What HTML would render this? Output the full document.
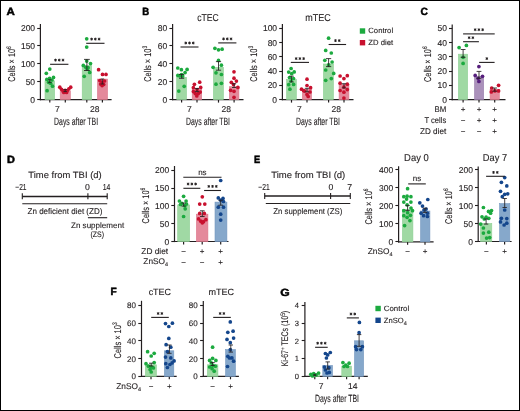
<!DOCTYPE html>
<html><head><meta charset="utf-8"><style>
html,body{margin:0;padding:0;background:#fff;}
svg{display:block;will-change:transform;font-family:"Liberation Sans",sans-serif;}
text{stroke:#231f20;stroke-width:0.12;text-rendering:geometricPrecision;}
</style></head><body>
<svg width="520" height="411" viewBox="0 0 520 411">
<rect x="0" y="0" width="520" height="411" fill="#fff"/>
<text x="6.60" y="14.60" font-size="10.5" text-anchor="start" font-weight="bold" fill="#000" textLength="8.3" lengthAdjust="spacingAndGlyphs" style="stroke:#000;stroke-width:0.5">A</text>
<line x1="40.40" y1="24.00" x2="40.40" y2="100.20" stroke="#231f20" stroke-width="1.2"/>
<line x1="39.80" y1="99.60" x2="111.60" y2="99.60" stroke="#231f20" stroke-width="1.2"/>
<line x1="37.20" y1="28.50" x2="40.40" y2="28.50" stroke="#231f20" stroke-width="1.1"/>
<text x="35.10" y="31.20" font-size="8.5" text-anchor="end" font-weight="normal" fill="#231f20" >200</text>
<line x1="37.20" y1="45.50" x2="40.40" y2="45.50" stroke="#231f20" stroke-width="1.1"/>
<text x="35.10" y="49.08" font-size="8.5" text-anchor="end" font-weight="normal" fill="#231f20" >150</text>
<line x1="37.20" y1="63.50" x2="40.40" y2="63.50" stroke="#231f20" stroke-width="1.1"/>
<text x="35.10" y="66.95" font-size="8.5" text-anchor="end" font-weight="normal" fill="#231f20" >100</text>
<line x1="37.20" y1="81.50" x2="40.40" y2="81.50" stroke="#231f20" stroke-width="1.1"/>
<text x="35.10" y="84.83" font-size="8.5" text-anchor="end" font-weight="normal" fill="#231f20" >50</text>
<line x1="37.20" y1="99.50" x2="40.40" y2="99.50" stroke="#231f20" stroke-width="1.1"/>
<text x="35.10" y="102.70" font-size="8.5" text-anchor="end" font-weight="normal" fill="#231f20" >0</text>
<line x1="49.80" y1="99.60" x2="49.80" y2="102.60" stroke="#231f20" stroke-width="1.2"/>
<line x1="65.30" y1="99.60" x2="65.30" y2="102.60" stroke="#231f20" stroke-width="1.2"/>
<line x1="86.80" y1="99.60" x2="86.80" y2="102.60" stroke="#231f20" stroke-width="1.2"/>
<line x1="102.40" y1="99.60" x2="102.40" y2="102.60" stroke="#231f20" stroke-width="1.2"/>
<rect x="45.00" y="80.80" width="9.60" height="18.80" fill="#a0d9a4" stroke="#8dd093" stroke-width="0.6"/>
<rect x="60.20" y="90.90" width="10.10" height="8.70" fill="#e4899b" stroke="#dc7489" stroke-width="0.6"/>
<rect x="82.20" y="65.70" width="9.50" height="33.90" fill="#a0d9a4" stroke="#8dd093" stroke-width="0.6"/>
<rect x="97.50" y="79.10" width="10.00" height="20.50" fill="#e4899b" stroke="#dc7489" stroke-width="0.6"/>
<circle cx="49.80" cy="69.10" r="1.85" fill="#1caa3f"/>
<circle cx="46.30" cy="73.30" r="1.85" fill="#1caa3f"/>
<circle cx="53.50" cy="77.40" r="1.85" fill="#1caa3f"/>
<circle cx="49.60" cy="78.40" r="1.85" fill="#1caa3f"/>
<circle cx="46.80" cy="79.40" r="1.85" fill="#1caa3f"/>
<circle cx="52.00" cy="80.00" r="1.85" fill="#1caa3f"/>
<circle cx="48.60" cy="82.30" r="1.85" fill="#1caa3f"/>
<circle cx="50.60" cy="83.30" r="1.85" fill="#1caa3f"/>
<circle cx="52.50" cy="86.20" r="1.85" fill="#1caa3f"/>
<circle cx="47.10" cy="90.70" r="1.85" fill="#1caa3f"/>
<circle cx="59.80" cy="87.20" r="1.85" fill="#c8102e"/>
<circle cx="70.70" cy="87.20" r="1.85" fill="#c8102e"/>
<circle cx="61.50" cy="89.30" r="1.85" fill="#c8102e"/>
<circle cx="68.90" cy="88.80" r="1.85" fill="#c8102e"/>
<circle cx="63.00" cy="90.90" r="1.85" fill="#c8102e"/>
<circle cx="67.30" cy="90.50" r="1.85" fill="#c8102e"/>
<circle cx="65.20" cy="92.00" r="1.85" fill="#c8102e"/>
<circle cx="63.80" cy="92.40" r="1.85" fill="#c8102e"/>
<circle cx="66.60" cy="92.40" r="1.85" fill="#c8102e"/>
<circle cx="65.20" cy="90.30" r="1.85" fill="#c8102e"/>
<circle cx="86.70" cy="38.80" r="1.85" fill="#1caa3f"/>
<circle cx="86.70" cy="47.10" r="1.85" fill="#1caa3f"/>
<circle cx="86.70" cy="61.10" r="1.85" fill="#1caa3f"/>
<circle cx="83.30" cy="65.40" r="1.85" fill="#1caa3f"/>
<circle cx="90.50" cy="63.60" r="1.85" fill="#1caa3f"/>
<circle cx="85.80" cy="67.30" r="1.85" fill="#1caa3f"/>
<circle cx="88.10" cy="67.70" r="1.85" fill="#1caa3f"/>
<circle cx="87.20" cy="68.90" r="1.85" fill="#1caa3f"/>
<circle cx="89.70" cy="72.40" r="1.85" fill="#1caa3f"/>
<circle cx="84.20" cy="76.30" r="1.85" fill="#1caa3f"/>
<circle cx="98.60" cy="69.70" r="1.85" fill="#c8102e"/>
<circle cx="102.50" cy="74.40" r="1.85" fill="#c8102e"/>
<circle cx="106.00" cy="74.40" r="1.85" fill="#c8102e"/>
<circle cx="99.80" cy="80.60" r="1.85" fill="#c8102e"/>
<circle cx="104.50" cy="81.00" r="1.85" fill="#c8102e"/>
<circle cx="100.60" cy="84.10" r="1.85" fill="#c8102e"/>
<circle cx="103.70" cy="84.50" r="1.85" fill="#c8102e"/>
<circle cx="102.10" cy="85.60" r="1.85" fill="#c8102e"/>
<circle cx="102.20" cy="82.50" r="1.85" fill="#c8102e"/>
<line x1="49.80" y1="79.80" x2="49.80" y2="82.60" stroke="#231f20" stroke-width="0.85"/>
<line x1="48.10" y1="79.80" x2="51.50" y2="79.80" stroke="#231f20" stroke-width="0.85"/>
<line x1="48.10" y1="82.60" x2="51.50" y2="82.60" stroke="#231f20" stroke-width="0.85"/>
<line x1="65.20" y1="89.60" x2="65.20" y2="91.60" stroke="#231f20" stroke-width="0.85"/>
<line x1="63.50" y1="89.60" x2="66.90" y2="89.60" stroke="#231f20" stroke-width="0.85"/>
<line x1="63.50" y1="91.60" x2="66.90" y2="91.60" stroke="#231f20" stroke-width="0.85"/>
<line x1="86.90" y1="59.40" x2="86.90" y2="70.50" stroke="#231f20" stroke-width="0.85"/>
<line x1="84.00" y1="59.40" x2="89.80" y2="59.40" stroke="#231f20" stroke-width="0.85"/>
<line x1="84.00" y1="70.50" x2="89.80" y2="70.50" stroke="#231f20" stroke-width="0.85"/>
<line x1="102.30" y1="79.00" x2="102.30" y2="84.00" stroke="#231f20" stroke-width="0.85"/>
<line x1="100.50" y1="79.00" x2="104.10" y2="79.00" stroke="#231f20" stroke-width="0.85"/>
<line x1="100.50" y1="84.00" x2="104.10" y2="84.00" stroke="#231f20" stroke-width="0.85"/>
<line x1="50.10" y1="64.30" x2="68.40" y2="64.30" stroke="#231f20" stroke-width="1.1"/>
<path d="M55.50,58.70L55.50,61.50M54.29,59.40L56.71,60.80M54.29,60.80L56.71,59.40" stroke="#231f20" stroke-width="0.95" fill="none"/>
<path d="M59.25,58.70L59.25,61.50M58.04,59.40L60.46,60.80M58.04,60.80L60.46,59.40" stroke="#231f20" stroke-width="0.95" fill="none"/>
<path d="M63.00,58.70L63.00,61.50M61.79,59.40L64.21,60.80M61.79,60.80L64.21,59.40" stroke="#231f20" stroke-width="0.95" fill="none"/>
<line x1="86.20" y1="43.30" x2="104.50" y2="43.30" stroke="#231f20" stroke-width="1.1"/>
<path d="M91.60,37.70L91.60,40.50M90.39,38.40L92.81,39.80M90.39,39.80L92.81,38.40" stroke="#231f20" stroke-width="0.95" fill="none"/>
<path d="M95.35,37.70L95.35,40.50M94.14,38.40L96.56,39.80M94.14,39.80L96.56,38.40" stroke="#231f20" stroke-width="0.95" fill="none"/>
<path d="M99.10,37.70L99.10,40.50M97.89,38.40L100.31,39.80M97.89,39.80L100.31,38.40" stroke="#231f20" stroke-width="0.95" fill="none"/>
<text x="57.40" y="112.10" font-size="8.5" text-anchor="middle" font-weight="normal" fill="#231f20" >7</text>
<text x="94.70" y="112.10" font-size="8.5" text-anchor="middle" font-weight="normal" fill="#231f20" >28</text>
<text x="76.10" y="125.00" font-size="10.6" text-anchor="middle" font-weight="normal" fill="#231f20" textLength="44" lengthAdjust="spacingAndGlyphs" >Days after TBI</text>
<text transform="translate(14.6,64.0) rotate(-90)" x="0" y="0" font-size="9.8" text-anchor="middle" fill="#231f20" textLength="35.7" lengthAdjust="spacingAndGlyphs">Cells × 10<tspan dy="-3.8" font-size="6.5">6</tspan></text>
<text x="142.30" y="14.90" font-size="10.5" text-anchor="start" font-weight="bold" fill="#000" textLength="6.9" lengthAdjust="spacingAndGlyphs" style="stroke:#000;stroke-width:0.5">B</text>
<line x1="172.60" y1="24.00" x2="172.60" y2="100.20" stroke="#231f20" stroke-width="1.2"/>
<line x1="172.00" y1="99.60" x2="243.50" y2="99.60" stroke="#231f20" stroke-width="1.2"/>
<line x1="169.40" y1="28.50" x2="172.60" y2="28.50" stroke="#231f20" stroke-width="1.1"/>
<text x="167.30" y="31.20" font-size="8.5" text-anchor="end" font-weight="normal" fill="#231f20" >80</text>
<line x1="169.40" y1="45.50" x2="172.60" y2="45.50" stroke="#231f20" stroke-width="1.1"/>
<text x="167.30" y="49.08" font-size="8.5" text-anchor="end" font-weight="normal" fill="#231f20" >60</text>
<line x1="169.40" y1="63.50" x2="172.60" y2="63.50" stroke="#231f20" stroke-width="1.1"/>
<text x="167.30" y="66.95" font-size="8.5" text-anchor="end" font-weight="normal" fill="#231f20" >40</text>
<line x1="169.40" y1="81.50" x2="172.60" y2="81.50" stroke="#231f20" stroke-width="1.1"/>
<text x="167.30" y="84.83" font-size="8.5" text-anchor="end" font-weight="normal" fill="#231f20" >20</text>
<line x1="169.40" y1="99.50" x2="172.60" y2="99.50" stroke="#231f20" stroke-width="1.1"/>
<text x="167.30" y="102.70" font-size="8.5" text-anchor="end" font-weight="normal" fill="#231f20" >0</text>
<line x1="181.60" y1="99.60" x2="181.60" y2="102.60" stroke="#231f20" stroke-width="1.2"/>
<line x1="197.00" y1="99.60" x2="197.00" y2="102.60" stroke="#231f20" stroke-width="1.2"/>
<line x1="218.50" y1="99.60" x2="218.50" y2="102.60" stroke="#231f20" stroke-width="1.2"/>
<line x1="234.10" y1="99.60" x2="234.10" y2="102.60" stroke="#231f20" stroke-width="1.2"/>
<text x="207.90" y="21.30" font-size="10" text-anchor="middle" font-weight="normal" fill="#231f20" textLength="21.5" lengthAdjust="spacingAndGlyphs" >cTEC</text>
<text transform="translate(151.2,63.8) rotate(-90)" x="0" y="0" font-size="9.8" text-anchor="middle" fill="#231f20" textLength="35.9" lengthAdjust="spacingAndGlyphs">Cells × 10<tspan dy="-3.8" font-size="6.5">3</tspan></text>
<rect x="176.70" y="77.30" width="9.80" height="22.30" fill="#a0d9a4" stroke="#8dd093" stroke-width="0.6"/>
<rect x="192.20" y="89.50" width="9.50" height="10.10" fill="#e4899b" stroke="#dc7489" stroke-width="0.6"/>
<rect x="213.40" y="67.30" width="10.00" height="32.30" fill="#a0d9a4" stroke="#8dd093" stroke-width="0.6"/>
<rect x="229.30" y="86.70" width="9.60" height="12.90" fill="#e4899b" stroke="#dc7489" stroke-width="0.6"/>
<circle cx="177.80" cy="68.00" r="1.85" fill="#1caa3f"/>
<circle cx="181.40" cy="69.70" r="1.85" fill="#1caa3f"/>
<circle cx="187.10" cy="69.40" r="1.85" fill="#1caa3f"/>
<circle cx="185.10" cy="72.60" r="1.85" fill="#1caa3f"/>
<circle cx="177.80" cy="75.40" r="1.85" fill="#1caa3f"/>
<circle cx="179.80" cy="75.80" r="1.85" fill="#1caa3f"/>
<circle cx="182.70" cy="76.10" r="1.85" fill="#1caa3f"/>
<circle cx="184.20" cy="86.30" r="1.85" fill="#1caa3f"/>
<circle cx="178.80" cy="91.10" r="1.85" fill="#1caa3f"/>
<circle cx="181.60" cy="74.50" r="1.85" fill="#1caa3f"/>
<circle cx="199.70" cy="82.20" r="1.85" fill="#c8102e"/>
<circle cx="194.40" cy="84.30" r="1.85" fill="#c8102e"/>
<circle cx="193.40" cy="87.70" r="1.85" fill="#c8102e"/>
<circle cx="200.70" cy="87.40" r="1.85" fill="#c8102e"/>
<circle cx="197.10" cy="89.70" r="1.85" fill="#c8102e"/>
<circle cx="193.40" cy="91.60" r="1.85" fill="#c8102e"/>
<circle cx="200.20" cy="92.10" r="1.85" fill="#c8102e"/>
<circle cx="195.30" cy="93.60" r="1.85" fill="#c8102e"/>
<circle cx="198.30" cy="93.60" r="1.85" fill="#c8102e"/>
<circle cx="196.80" cy="96.00" r="1.85" fill="#c8102e"/>
<circle cx="214.90" cy="48.30" r="1.85" fill="#1caa3f"/>
<circle cx="218.50" cy="49.80" r="1.85" fill="#1caa3f"/>
<circle cx="222.10" cy="49.20" r="1.85" fill="#1caa3f"/>
<circle cx="218.50" cy="60.40" r="1.85" fill="#1caa3f"/>
<circle cx="213.10" cy="67.30" r="1.85" fill="#1caa3f"/>
<circle cx="221.40" cy="65.20" r="1.85" fill="#1caa3f"/>
<circle cx="216.00" cy="72.80" r="1.85" fill="#1caa3f"/>
<circle cx="221.40" cy="74.50" r="1.85" fill="#1caa3f"/>
<circle cx="216.00" cy="84.20" r="1.85" fill="#1caa3f"/>
<circle cx="221.40" cy="83.30" r="1.85" fill="#1caa3f"/>
<circle cx="234.00" cy="71.80" r="1.85" fill="#c8102e"/>
<circle cx="234.00" cy="78.20" r="1.85" fill="#c8102e"/>
<circle cx="231.30" cy="82.30" r="1.85" fill="#c8102e"/>
<circle cx="236.40" cy="81.10" r="1.85" fill="#c8102e"/>
<circle cx="233.50" cy="84.50" r="1.85" fill="#c8102e"/>
<circle cx="237.90" cy="87.40" r="1.85" fill="#c8102e"/>
<circle cx="230.60" cy="90.30" r="1.85" fill="#c8102e"/>
<circle cx="234.00" cy="91.30" r="1.85" fill="#c8102e"/>
<circle cx="234.00" cy="97.30" r="1.85" fill="#c8102e"/>
<line x1="181.60" y1="74.40" x2="181.60" y2="78.30" stroke="#231f20" stroke-width="0.85"/>
<line x1="179.00" y1="74.40" x2="184.20" y2="74.40" stroke="#231f20" stroke-width="0.85"/>
<line x1="179.00" y1="78.30" x2="184.20" y2="78.30" stroke="#231f20" stroke-width="0.85"/>
<line x1="197.00" y1="88.50" x2="197.00" y2="91.60" stroke="#231f20" stroke-width="0.85"/>
<line x1="194.90" y1="88.50" x2="199.10" y2="88.50" stroke="#231f20" stroke-width="0.85"/>
<line x1="194.90" y1="91.60" x2="199.10" y2="91.60" stroke="#231f20" stroke-width="0.85"/>
<line x1="218.50" y1="61.60" x2="218.50" y2="70.20" stroke="#231f20" stroke-width="0.85"/>
<line x1="215.90" y1="61.60" x2="221.10" y2="61.60" stroke="#231f20" stroke-width="0.85"/>
<line x1="215.90" y1="70.20" x2="221.10" y2="70.20" stroke="#231f20" stroke-width="0.85"/>
<line x1="234.10" y1="83.70" x2="234.10" y2="87.50" stroke="#231f20" stroke-width="0.85"/>
<line x1="232.00" y1="83.70" x2="236.20" y2="83.70" stroke="#231f20" stroke-width="0.85"/>
<line x1="232.00" y1="87.50" x2="236.20" y2="87.50" stroke="#231f20" stroke-width="0.85"/>
<text x="189.30" y="112.10" font-size="8.5" text-anchor="middle" font-weight="normal" fill="#231f20" >7</text>
<text x="226.30" y="112.10" font-size="8.5" text-anchor="middle" font-weight="normal" fill="#231f20" >28</text>
<text x="208.00" y="125.00" font-size="10.6" text-anchor="middle" font-weight="normal" fill="#231f20" textLength="44" lengthAdjust="spacingAndGlyphs" >Days after TBI</text>
<line x1="180.50" y1="47.00" x2="198.50" y2="47.00" stroke="#231f20" stroke-width="1.1"/>
<path d="M185.75,41.60L185.75,44.40M184.54,42.30L186.96,43.70M184.54,43.70L186.96,42.30" stroke="#231f20" stroke-width="0.95" fill="none"/>
<path d="M189.50,41.60L189.50,44.40M188.29,42.30L190.71,43.70M188.29,43.70L190.71,42.30" stroke="#231f20" stroke-width="0.95" fill="none"/>
<path d="M193.25,41.60L193.25,44.40M192.04,42.30L194.46,43.70M192.04,43.70L194.46,42.30" stroke="#231f20" stroke-width="0.95" fill="none"/>
<line x1="218.20" y1="42.90" x2="236.40" y2="42.90" stroke="#231f20" stroke-width="1.1"/>
<path d="M223.55,37.50L223.55,40.30M222.34,38.20L224.76,39.60M222.34,39.60L224.76,38.20" stroke="#231f20" stroke-width="0.95" fill="none"/>
<path d="M227.30,37.50L227.30,40.30M226.09,38.20L228.51,39.60M226.09,39.60L228.51,38.20" stroke="#231f20" stroke-width="0.95" fill="none"/>
<path d="M231.05,37.50L231.05,40.30M229.84,38.20L232.26,39.60M229.84,39.60L232.26,38.20" stroke="#231f20" stroke-width="0.95" fill="none"/>
<line x1="282.40" y1="24.00" x2="282.40" y2="100.20" stroke="#231f20" stroke-width="1.2"/>
<line x1="281.80" y1="99.60" x2="353.50" y2="99.60" stroke="#231f20" stroke-width="1.2"/>
<line x1="279.20" y1="28.50" x2="282.40" y2="28.50" stroke="#231f20" stroke-width="1.1"/>
<text x="277.10" y="31.20" font-size="8.5" text-anchor="end" font-weight="normal" fill="#231f20" >100</text>
<line x1="279.20" y1="42.50" x2="282.40" y2="42.50" stroke="#231f20" stroke-width="1.1"/>
<text x="277.10" y="45.50" font-size="8.5" text-anchor="end" font-weight="normal" fill="#231f20" >80</text>
<line x1="279.20" y1="56.50" x2="282.40" y2="56.50" stroke="#231f20" stroke-width="1.1"/>
<text x="277.10" y="59.80" font-size="8.5" text-anchor="end" font-weight="normal" fill="#231f20" >60</text>
<line x1="279.20" y1="71.50" x2="282.40" y2="71.50" stroke="#231f20" stroke-width="1.1"/>
<text x="277.10" y="74.10" font-size="8.5" text-anchor="end" font-weight="normal" fill="#231f20" >40</text>
<line x1="279.20" y1="85.50" x2="282.40" y2="85.50" stroke="#231f20" stroke-width="1.1"/>
<text x="277.10" y="88.40" font-size="8.5" text-anchor="end" font-weight="normal" fill="#231f20" >20</text>
<line x1="279.20" y1="99.50" x2="282.40" y2="99.50" stroke="#231f20" stroke-width="1.1"/>
<text x="277.10" y="102.70" font-size="8.5" text-anchor="end" font-weight="normal" fill="#231f20" >0</text>
<line x1="291.50" y1="99.60" x2="291.50" y2="102.60" stroke="#231f20" stroke-width="1.2"/>
<line x1="307.00" y1="99.60" x2="307.00" y2="102.60" stroke="#231f20" stroke-width="1.2"/>
<line x1="328.60" y1="99.60" x2="328.60" y2="102.60" stroke="#231f20" stroke-width="1.2"/>
<line x1="344.00" y1="99.60" x2="344.00" y2="102.60" stroke="#231f20" stroke-width="1.2"/>
<text x="317.90" y="21.30" font-size="10" text-anchor="middle" font-weight="normal" fill="#231f20" textLength="25.5" lengthAdjust="spacingAndGlyphs" >mTEC</text>
<text transform="translate(257.1,63.8) rotate(-90)" x="0" y="0" font-size="9.8" text-anchor="middle" fill="#231f20" textLength="35.9" lengthAdjust="spacingAndGlyphs">Cells × 10<tspan dy="-3.8" font-size="6.5">3</tspan></text>
<rect x="286.60" y="79.50" width="9.70" height="20.10" fill="#a0d9a4" stroke="#8dd093" stroke-width="0.6"/>
<rect x="302.40" y="89.20" width="9.10" height="10.40" fill="#e4899b" stroke="#dc7489" stroke-width="0.6"/>
<rect x="323.40" y="64.00" width="10.00" height="35.60" fill="#a0d9a4" stroke="#8dd093" stroke-width="0.6"/>
<rect x="339.10" y="84.50" width="9.80" height="15.10" fill="#e4899b" stroke="#dc7489" stroke-width="0.6"/>
<circle cx="291.10" cy="68.50" r="1.85" fill="#1caa3f"/>
<circle cx="288.70" cy="72.10" r="1.85" fill="#1caa3f"/>
<circle cx="294.20" cy="71.90" r="1.85" fill="#1caa3f"/>
<circle cx="291.70" cy="73.70" r="1.85" fill="#1caa3f"/>
<circle cx="288.70" cy="84.70" r="1.85" fill="#1caa3f"/>
<circle cx="293.60" cy="84.40" r="1.85" fill="#1caa3f"/>
<circle cx="289.90" cy="89.20" r="1.85" fill="#1caa3f"/>
<circle cx="291.10" cy="81.00" r="1.85" fill="#1caa3f"/>
<circle cx="289.50" cy="77.50" r="1.85" fill="#1caa3f"/>
<circle cx="293.50" cy="78.50" r="1.85" fill="#1caa3f"/>
<circle cx="307.00" cy="79.20" r="1.85" fill="#c8102e"/>
<circle cx="307.00" cy="85.50" r="1.85" fill="#c8102e"/>
<circle cx="310.60" cy="87.70" r="1.85" fill="#c8102e"/>
<circle cx="301.50" cy="89.20" r="1.85" fill="#c8102e"/>
<circle cx="304.50" cy="91.10" r="1.85" fill="#c8102e"/>
<circle cx="310.00" cy="92.00" r="1.85" fill="#c8102e"/>
<circle cx="307.00" cy="94.40" r="1.85" fill="#c8102e"/>
<circle cx="308.20" cy="96.50" r="1.85" fill="#c8102e"/>
<circle cx="303.50" cy="90.50" r="1.85" fill="#c8102e"/>
<circle cx="328.60" cy="38.20" r="1.85" fill="#1caa3f"/>
<circle cx="325.70" cy="50.40" r="1.85" fill="#1caa3f"/>
<circle cx="331.30" cy="53.00" r="1.85" fill="#1caa3f"/>
<circle cx="324.80" cy="60.30" r="1.85" fill="#1caa3f"/>
<circle cx="332.10" cy="62.00" r="1.85" fill="#1caa3f"/>
<circle cx="328.60" cy="64.90" r="1.85" fill="#1caa3f"/>
<circle cx="325.70" cy="70.00" r="1.85" fill="#1caa3f"/>
<circle cx="333.70" cy="73.40" r="1.85" fill="#1caa3f"/>
<circle cx="325.70" cy="80.30" r="1.85" fill="#1caa3f"/>
<circle cx="331.30" cy="78.60" r="1.85" fill="#1caa3f"/>
<circle cx="340.10" cy="76.00" r="1.85" fill="#c8102e"/>
<circle cx="343.90" cy="78.60" r="1.85" fill="#c8102e"/>
<circle cx="347.30" cy="75.70" r="1.85" fill="#c8102e"/>
<circle cx="340.10" cy="83.20" r="1.85" fill="#c8102e"/>
<circle cx="347.30" cy="84.20" r="1.85" fill="#c8102e"/>
<circle cx="343.90" cy="87.10" r="1.85" fill="#c8102e"/>
<circle cx="340.10" cy="90.50" r="1.85" fill="#c8102e"/>
<circle cx="347.30" cy="89.60" r="1.85" fill="#c8102e"/>
<circle cx="343.90" cy="92.20" r="1.85" fill="#c8102e"/>
<circle cx="343.90" cy="98.10" r="1.85" fill="#c8102e"/>
<line x1="291.50" y1="76.20" x2="291.50" y2="81.90" stroke="#231f20" stroke-width="0.85"/>
<line x1="289.30" y1="76.20" x2="293.70" y2="76.20" stroke="#231f20" stroke-width="0.85"/>
<line x1="289.30" y1="81.90" x2="293.70" y2="81.90" stroke="#231f20" stroke-width="0.85"/>
<line x1="307.00" y1="88.30" x2="307.00" y2="91.80" stroke="#231f20" stroke-width="0.85"/>
<line x1="304.80" y1="88.30" x2="309.20" y2="88.30" stroke="#231f20" stroke-width="0.85"/>
<line x1="304.80" y1="91.80" x2="309.20" y2="91.80" stroke="#231f20" stroke-width="0.85"/>
<line x1="328.60" y1="58.60" x2="328.60" y2="66.60" stroke="#231f20" stroke-width="0.85"/>
<line x1="326.00" y1="58.60" x2="331.20" y2="58.60" stroke="#231f20" stroke-width="0.85"/>
<line x1="326.00" y1="66.60" x2="331.20" y2="66.60" stroke="#231f20" stroke-width="0.85"/>
<line x1="344.00" y1="83.70" x2="344.00" y2="87.90" stroke="#231f20" stroke-width="0.85"/>
<line x1="341.80" y1="83.70" x2="346.20" y2="83.70" stroke="#231f20" stroke-width="0.85"/>
<line x1="341.80" y1="87.90" x2="346.20" y2="87.90" stroke="#231f20" stroke-width="0.85"/>
<line x1="290.80" y1="62.40" x2="309.00" y2="62.40" stroke="#231f20" stroke-width="1.1"/>
<path d="M296.15,57.20L296.15,60.00M294.94,57.90L297.36,59.30M294.94,59.30L297.36,57.90" stroke="#231f20" stroke-width="0.95" fill="none"/>
<path d="M299.90,57.20L299.90,60.00M298.69,57.90L301.11,59.30M298.69,59.30L301.11,57.90" stroke="#231f20" stroke-width="0.95" fill="none"/>
<path d="M303.65,57.20L303.65,60.00M302.44,57.90L304.86,59.30M302.44,59.30L304.86,57.90" stroke="#231f20" stroke-width="0.95" fill="none"/>
<line x1="328.60" y1="44.50" x2="346.10" y2="44.50" stroke="#231f20" stroke-width="1.1"/>
<path d="M335.48,39.20L335.48,42.00M334.26,39.90L336.69,41.30M334.26,41.30L336.69,39.90" stroke="#231f20" stroke-width="0.95" fill="none"/>
<path d="M339.23,39.20L339.23,42.00M338.01,39.90L340.44,41.30M338.01,41.30L340.44,39.90" stroke="#231f20" stroke-width="0.95" fill="none"/>
<text x="299.30" y="112.10" font-size="8.5" text-anchor="middle" font-weight="normal" fill="#231f20" >7</text>
<text x="336.30" y="112.10" font-size="8.5" text-anchor="middle" font-weight="normal" fill="#231f20" >28</text>
<text x="318.00" y="125.00" font-size="10.6" text-anchor="middle" font-weight="normal" fill="#231f20" textLength="44" lengthAdjust="spacingAndGlyphs" >Days after TBI</text>
<rect x="359.80" y="28.30" width="5.40" height="5.40" fill="#1caa3f"/>
<text x="368.30" y="33.40" font-size="7.6" text-anchor="start" font-weight="normal" fill="#231f20" textLength="24.8" lengthAdjust="spacingAndGlyphs" >Control</text>
<rect x="359.80" y="40.00" width="5.40" height="5.40" fill="#c8102e"/>
<text x="368.30" y="45.20" font-size="7.6" text-anchor="start" font-weight="normal" fill="#231f20" textLength="24.8" lengthAdjust="spacingAndGlyphs" >ZD diet</text>
<text x="420.50" y="14.90" font-size="10.5" text-anchor="start" font-weight="bold" fill="#000" textLength="7.4" lengthAdjust="spacingAndGlyphs" style="stroke:#000;stroke-width:0.5">C</text>
<line x1="452.20" y1="24.50" x2="452.20" y2="100.20" stroke="#231f20" stroke-width="1.2"/>
<line x1="451.60" y1="99.60" x2="505.50" y2="99.60" stroke="#231f20" stroke-width="1.2"/>
<line x1="449.00" y1="28.50" x2="452.20" y2="28.50" stroke="#231f20" stroke-width="1.1"/>
<text x="446.90" y="31.20" font-size="8.5" text-anchor="end" font-weight="normal" fill="#231f20" >50</text>
<line x1="449.00" y1="42.50" x2="452.20" y2="42.50" stroke="#231f20" stroke-width="1.1"/>
<text x="446.90" y="45.50" font-size="8.5" text-anchor="end" font-weight="normal" fill="#231f20" >40</text>
<line x1="449.00" y1="56.50" x2="452.20" y2="56.50" stroke="#231f20" stroke-width="1.1"/>
<text x="446.90" y="59.80" font-size="8.5" text-anchor="end" font-weight="normal" fill="#231f20" >30</text>
<line x1="449.00" y1="71.50" x2="452.20" y2="71.50" stroke="#231f20" stroke-width="1.1"/>
<text x="446.90" y="74.10" font-size="8.5" text-anchor="end" font-weight="normal" fill="#231f20" >20</text>
<line x1="449.00" y1="85.50" x2="452.20" y2="85.50" stroke="#231f20" stroke-width="1.1"/>
<text x="446.90" y="88.40" font-size="8.5" text-anchor="end" font-weight="normal" fill="#231f20" >10</text>
<line x1="449.00" y1="99.50" x2="452.20" y2="99.50" stroke="#231f20" stroke-width="1.1"/>
<text x="446.90" y="102.70" font-size="8.5" text-anchor="end" font-weight="normal" fill="#231f20" >0</text>
<line x1="463.10" y1="99.60" x2="463.10" y2="102.60" stroke="#231f20" stroke-width="1.2"/>
<line x1="479.00" y1="99.60" x2="479.00" y2="102.60" stroke="#231f20" stroke-width="1.2"/>
<line x1="494.70" y1="99.60" x2="494.70" y2="102.60" stroke="#231f20" stroke-width="1.2"/>
<text transform="translate(430.9,64.2) rotate(-90)" x="0" y="0" font-size="9.8" text-anchor="middle" fill="#231f20" textLength="35.6" lengthAdjust="spacingAndGlyphs">Cells × 10<tspan dy="-3.8" font-size="6.5">6</tspan></text>
<rect x="458.40" y="54.20" width="9.20" height="45.40" fill="#a0d9a4" stroke="#8dd093" stroke-width="0.6"/>
<rect x="474.50" y="76.60" width="9.20" height="23.00" fill="#ab91bb" stroke="#9c7fae" stroke-width="0.6"/>
<rect x="490.10" y="89.30" width="9.20" height="10.30" fill="#e4899b" stroke="#dc7489" stroke-width="0.6"/>
<circle cx="459.10" cy="47.60" r="1.85" fill="#1caa3f"/>
<circle cx="466.40" cy="45.40" r="1.85" fill="#1caa3f"/>
<circle cx="463.10" cy="57.30" r="1.85" fill="#1caa3f"/>
<circle cx="463.10" cy="63.40" r="1.85" fill="#1caa3f"/>
<circle cx="478.90" cy="66.60" r="1.85" fill="#561e7c"/>
<circle cx="475.20" cy="75.40" r="1.85" fill="#561e7c"/>
<circle cx="482.50" cy="76.30" r="1.85" fill="#561e7c"/>
<circle cx="478.10" cy="78.30" r="1.85" fill="#561e7c"/>
<circle cx="478.90" cy="81.40" r="1.85" fill="#561e7c"/>
<circle cx="498.60" cy="85.30" r="1.85" fill="#c8102e"/>
<circle cx="491.70" cy="88.00" r="1.85" fill="#c8102e"/>
<circle cx="491.30" cy="91.90" r="1.85" fill="#c8102e"/>
<circle cx="494.90" cy="90.90" r="1.85" fill="#c8102e"/>
<circle cx="498.60" cy="90.90" r="1.85" fill="#c8102e"/>
<line x1="463.10" y1="49.50" x2="463.10" y2="57.30" stroke="#231f20" stroke-width="0.85"/>
<line x1="460.70" y1="49.50" x2="465.50" y2="49.50" stroke="#231f20" stroke-width="0.85"/>
<line x1="460.70" y1="57.30" x2="465.50" y2="57.30" stroke="#231f20" stroke-width="0.85"/>
<line x1="479.00" y1="71.40" x2="479.00" y2="78.30" stroke="#231f20" stroke-width="0.85"/>
<line x1="476.60" y1="71.40" x2="481.40" y2="71.40" stroke="#231f20" stroke-width="0.85"/>
<line x1="476.60" y1="78.30" x2="481.40" y2="78.30" stroke="#231f20" stroke-width="0.85"/>
<line x1="494.70" y1="88.00" x2="494.70" y2="91.20" stroke="#231f20" stroke-width="0.85"/>
<line x1="492.30" y1="88.00" x2="497.10" y2="88.00" stroke="#231f20" stroke-width="0.85"/>
<line x1="492.30" y1="91.20" x2="497.10" y2="91.20" stroke="#231f20" stroke-width="0.85"/>
<line x1="463.10" y1="33.90" x2="494.70" y2="33.90" stroke="#231f20" stroke-width="1.1"/>
<path d="M475.15,28.30L475.15,31.10M473.94,29.00L476.36,30.40M473.94,30.40L476.36,29.00" stroke="#231f20" stroke-width="0.95" fill="none"/>
<path d="M478.90,28.30L478.90,31.10M477.69,29.00L480.11,30.40M477.69,30.40L480.11,29.00" stroke="#231f20" stroke-width="0.95" fill="none"/>
<path d="M482.65,28.30L482.65,31.10M481.44,29.00L483.86,30.40M481.44,30.40L483.86,29.00" stroke="#231f20" stroke-width="0.95" fill="none"/>
<line x1="463.10" y1="41.70" x2="478.90" y2="41.70" stroke="#231f20" stroke-width="1.1"/>
<path d="M469.12,36.30L469.12,39.10M467.91,37.00L470.34,38.40M467.91,38.40L470.34,37.00" stroke="#231f20" stroke-width="0.95" fill="none"/>
<path d="M472.88,36.30L472.88,39.10M471.66,37.00L474.09,38.40M471.66,38.40L474.09,37.00" stroke="#231f20" stroke-width="0.95" fill="none"/>
<line x1="479.10" y1="62.40" x2="494.60" y2="62.40" stroke="#231f20" stroke-width="1.1"/>
<path d="M486.85,57.20L486.85,60.00M485.64,57.90L488.06,59.30M485.64,59.30L488.06,57.90" stroke="#231f20" stroke-width="0.95" fill="none"/>
<text x="446.20" y="112.30" font-size="8.3" text-anchor="end" font-weight="normal" fill="#231f20" textLength="11.8" lengthAdjust="spacingAndGlyphs" >BM</text>
<text x="463.10" y="112.30" font-size="8" text-anchor="middle" font-weight="normal" fill="#231f20" >+</text>
<text x="479.00" y="112.30" font-size="8" text-anchor="middle" font-weight="normal" fill="#231f20" >+</text>
<text x="494.70" y="112.30" font-size="8" text-anchor="middle" font-weight="normal" fill="#231f20" >+</text>
<text x="446.20" y="122.90" font-size="8.3" text-anchor="end" font-weight="normal" fill="#231f20" textLength="21.8" lengthAdjust="spacingAndGlyphs" >T cells</text>
<text x="463.10" y="122.90" font-size="8" text-anchor="middle" font-weight="normal" fill="#231f20" >−</text>
<text x="479.00" y="122.90" font-size="8" text-anchor="middle" font-weight="normal" fill="#231f20" >+</text>
<text x="494.70" y="122.90" font-size="8" text-anchor="middle" font-weight="normal" fill="#231f20" >+</text>
<text x="446.20" y="133.50" font-size="8.3" text-anchor="end" font-weight="normal" fill="#231f20" textLength="26.2" lengthAdjust="spacingAndGlyphs" >ZD diet</text>
<text x="463.10" y="133.50" font-size="8" text-anchor="middle" font-weight="normal" fill="#231f20" >−</text>
<text x="479.00" y="133.50" font-size="8" text-anchor="middle" font-weight="normal" fill="#231f20" >−</text>
<text x="494.70" y="133.50" font-size="8" text-anchor="middle" font-weight="normal" fill="#231f20" >+</text>
<text x="7.00" y="162.50" font-size="10.5" text-anchor="start" font-weight="bold" fill="#000" textLength="7.9" lengthAdjust="spacingAndGlyphs" style="stroke:#000;stroke-width:0.5">D</text>
<text x="65.00" y="177.70" font-size="9.2" text-anchor="middle" font-weight="normal" fill="#231f20" textLength="73.4" lengthAdjust="spacingAndGlyphs" >Time from TBI (d)</text>
<text x="20.90" y="189.80" font-size="8.7" text-anchor="middle" font-weight="normal" fill="#231f20" textLength="11.2" lengthAdjust="spacingAndGlyphs" >−21</text>
<text x="87.30" y="189.80" font-size="8.7" text-anchor="middle" font-weight="normal" fill="#231f20" >0</text>
<text x="106.50" y="189.80" font-size="8.7" text-anchor="middle" font-weight="normal" fill="#231f20" textLength="7.6" lengthAdjust="spacingAndGlyphs" >14</text>
<line x1="22.30" y1="196.40" x2="107.20" y2="196.40" stroke="#231f20" stroke-width="1.5"/>
<line x1="22.30" y1="193.20" x2="22.30" y2="199.20" stroke="#231f20" stroke-width="1.1"/>
<line x1="87.90" y1="193.20" x2="87.90" y2="199.20" stroke="#231f20" stroke-width="1.1"/>
<line x1="107.20" y1="193.20" x2="107.20" y2="199.20" stroke="#231f20" stroke-width="1.1"/>
<line x1="22.30" y1="203.70" x2="107.20" y2="203.70" stroke="#231f20" stroke-width="1.1"/>
<text x="65.00" y="213.80" font-size="8.2" text-anchor="middle" font-weight="normal" fill="#231f20" textLength="74.8" lengthAdjust="spacingAndGlyphs" >Zn deficient diet (ZD)</text>
<line x1="87.90" y1="217.70" x2="107.20" y2="217.70" stroke="#231f20" stroke-width="1.1"/>
<text x="97.60" y="227.90" font-size="8.0" text-anchor="middle" font-weight="normal" fill="#231f20" textLength="53.2" lengthAdjust="spacingAndGlyphs" >Zn supplement</text>
<text x="97.30" y="236.60" font-size="8.0" text-anchor="middle" font-weight="normal" fill="#231f20" textLength="13.6" lengthAdjust="spacingAndGlyphs" >(ZS)</text>
<line x1="174.50" y1="166.00" x2="174.50" y2="242.10" stroke="#231f20" stroke-width="1.2"/>
<line x1="173.90" y1="241.50" x2="228.50" y2="241.50" stroke="#231f20" stroke-width="1.2"/>
<line x1="171.30" y1="170.50" x2="174.50" y2="170.50" stroke="#231f20" stroke-width="1.1"/>
<text x="169.20" y="173.30" font-size="8.5" text-anchor="end" font-weight="normal" fill="#231f20" >200</text>
<line x1="171.30" y1="188.50" x2="174.50" y2="188.50" stroke="#231f20" stroke-width="1.1"/>
<text x="169.20" y="191.13" font-size="8.5" text-anchor="end" font-weight="normal" fill="#231f20" >150</text>
<line x1="171.30" y1="205.50" x2="174.50" y2="205.50" stroke="#231f20" stroke-width="1.1"/>
<text x="169.20" y="208.95" font-size="8.5" text-anchor="end" font-weight="normal" fill="#231f20" >100</text>
<line x1="171.30" y1="223.50" x2="174.50" y2="223.50" stroke="#231f20" stroke-width="1.1"/>
<text x="169.20" y="226.78" font-size="8.5" text-anchor="end" font-weight="normal" fill="#231f20" >50</text>
<line x1="171.30" y1="241.50" x2="174.50" y2="241.50" stroke="#231f20" stroke-width="1.1"/>
<text x="169.20" y="244.60" font-size="8.5" text-anchor="end" font-weight="normal" fill="#231f20" >0</text>
<line x1="183.60" y1="241.50" x2="183.60" y2="244.50" stroke="#231f20" stroke-width="1.2"/>
<line x1="202.20" y1="241.50" x2="202.20" y2="244.50" stroke="#231f20" stroke-width="1.2"/>
<line x1="220.70" y1="241.50" x2="220.70" y2="244.50" stroke="#231f20" stroke-width="1.2"/>
<text transform="translate(148.8,205.6) rotate(-90)" x="0" y="0" font-size="9.8" text-anchor="middle" fill="#231f20" textLength="35.6" lengthAdjust="spacingAndGlyphs">Cells × 10<tspan dy="-3.8" font-size="6.5">6</tspan></text>
<rect x="177.70" y="204.90" width="11.90" height="36.60" fill="#a0d9a4" stroke="#8dd093" stroke-width="0.6"/>
<rect x="196.40" y="214.20" width="11.50" height="27.30" fill="#e4899b" stroke="#dc7489" stroke-width="0.6"/>
<rect x="215.00" y="202.10" width="11.90" height="39.40" fill="#86a8cb" stroke="#7397bf" stroke-width="0.6"/>
<circle cx="183.60" cy="196.30" r="1.85" fill="#1caa3f"/>
<circle cx="179.40" cy="201.00" r="1.85" fill="#1caa3f"/>
<circle cx="186.10" cy="201.00" r="1.85" fill="#1caa3f"/>
<circle cx="181.80" cy="203.30" r="1.85" fill="#1caa3f"/>
<circle cx="184.90" cy="205.70" r="1.85" fill="#1caa3f"/>
<circle cx="185.20" cy="208.80" r="1.85" fill="#1caa3f"/>
<circle cx="183.60" cy="216.50" r="1.85" fill="#1caa3f"/>
<circle cx="180.50" cy="204.50" r="1.85" fill="#1caa3f"/>
<circle cx="186.50" cy="204.00" r="1.85" fill="#1caa3f"/>
<circle cx="202.30" cy="196.80" r="1.85" fill="#c8102e"/>
<circle cx="199.70" cy="204.10" r="1.85" fill="#c8102e"/>
<circle cx="204.80" cy="204.10" r="1.85" fill="#c8102e"/>
<circle cx="199.70" cy="213.40" r="1.85" fill="#c8102e"/>
<circle cx="204.30" cy="213.40" r="1.85" fill="#c8102e"/>
<circle cx="198.60" cy="218.90" r="1.85" fill="#c8102e"/>
<circle cx="205.90" cy="219.70" r="1.85" fill="#c8102e"/>
<circle cx="200.80" cy="221.20" r="1.85" fill="#c8102e"/>
<circle cx="203.50" cy="221.70" r="1.85" fill="#c8102e"/>
<circle cx="202.30" cy="222.80" r="1.85" fill="#c8102e"/>
<circle cx="220.70" cy="180.50" r="1.85" fill="#14468c"/>
<circle cx="218.30" cy="197.90" r="1.85" fill="#14468c"/>
<circle cx="223.00" cy="198.40" r="1.85" fill="#14468c"/>
<circle cx="220.70" cy="200.20" r="1.85" fill="#14468c"/>
<circle cx="223.50" cy="201.50" r="1.85" fill="#14468c"/>
<circle cx="218.30" cy="207.20" r="1.85" fill="#14468c"/>
<circle cx="223.50" cy="207.20" r="1.85" fill="#14468c"/>
<circle cx="220.70" cy="214.20" r="1.85" fill="#14468c"/>
<circle cx="220.70" cy="220.10" r="1.85" fill="#14468c"/>
<line x1="183.60" y1="203.00" x2="183.60" y2="206.10" stroke="#231f20" stroke-width="0.85"/>
<line x1="181.50" y1="203.00" x2="185.70" y2="203.00" stroke="#231f20" stroke-width="0.85"/>
<line x1="181.50" y1="206.10" x2="185.70" y2="206.10" stroke="#231f20" stroke-width="0.85"/>
<line x1="202.30" y1="210.80" x2="202.30" y2="216.50" stroke="#231f20" stroke-width="0.85"/>
<line x1="200.00" y1="210.80" x2="204.60" y2="210.80" stroke="#231f20" stroke-width="0.85"/>
<line x1="200.00" y1="216.50" x2="204.60" y2="216.50" stroke="#231f20" stroke-width="0.85"/>
<line x1="220.70" y1="200.20" x2="220.70" y2="205.20" stroke="#231f20" stroke-width="0.85"/>
<line x1="218.40" y1="200.20" x2="223.00" y2="200.20" stroke="#231f20" stroke-width="0.85"/>
<line x1="218.40" y1="205.20" x2="223.00" y2="205.20" stroke="#231f20" stroke-width="0.85"/>
<line x1="183.30" y1="177.30" x2="221.50" y2="177.30" stroke="#231f20" stroke-width="1.1"/>
<text x="202.40" y="174.80" font-size="8" text-anchor="middle" font-weight="normal" fill="#231f20" >ns</text>
<line x1="183.40" y1="188.30" x2="200.30" y2="188.30" stroke="#231f20" stroke-width="1.1"/>
<path d="M188.10,182.60L188.10,185.40M186.89,183.30L189.31,184.70M186.89,184.70L189.31,183.30" stroke="#231f20" stroke-width="0.95" fill="none"/>
<path d="M191.85,182.60L191.85,185.40M190.64,183.30L193.06,184.70M190.64,184.70L193.06,183.30" stroke="#231f20" stroke-width="0.95" fill="none"/>
<path d="M195.60,182.60L195.60,185.40M194.39,183.30L196.81,184.70M194.39,184.70L196.81,183.30" stroke="#231f20" stroke-width="0.95" fill="none"/>
<line x1="204.10" y1="190.50" x2="221.00" y2="190.50" stroke="#231f20" stroke-width="1.1"/>
<path d="M208.80,185.00L208.80,187.80M207.59,185.70L210.01,187.10M207.59,187.10L210.01,185.70" stroke="#231f20" stroke-width="0.95" fill="none"/>
<path d="M212.55,185.00L212.55,187.80M211.34,185.70L213.76,187.10M211.34,187.10L213.76,185.70" stroke="#231f20" stroke-width="0.95" fill="none"/>
<path d="M216.30,185.00L216.30,187.80M215.09,185.70L217.51,187.10M215.09,187.10L217.51,185.70" stroke="#231f20" stroke-width="0.95" fill="none"/>
<text x="168.10" y="254.00" font-size="8.3" text-anchor="end" font-weight="normal" fill="#231f20" >ZD diet</text>
<text x="168.10" y="263.60" font-size="8.3" text-anchor="end" font-weight="normal" fill="#231f20" >ZnSO<tspan dy="2" font-size="5.5">4</tspan></text>
<text x="183.60" y="254.20" font-size="8" text-anchor="middle" font-weight="normal" fill="#231f20" >−</text>
<text x="202.20" y="254.20" font-size="8" text-anchor="middle" font-weight="normal" fill="#231f20" >+</text>
<text x="220.70" y="254.20" font-size="8" text-anchor="middle" font-weight="normal" fill="#231f20" >+</text>
<text x="183.60" y="264.80" font-size="8" text-anchor="middle" font-weight="normal" fill="#231f20" >−</text>
<text x="202.20" y="264.80" font-size="8" text-anchor="middle" font-weight="normal" fill="#231f20" >−</text>
<text x="220.70" y="264.80" font-size="8" text-anchor="middle" font-weight="normal" fill="#231f20" >+</text>
<text x="254.00" y="162.60" font-size="10.5" text-anchor="start" font-weight="bold" fill="#000" textLength="6.2" lengthAdjust="spacingAndGlyphs" style="stroke:#000;stroke-width:0.5">E</text>
<text x="308.30" y="178.10" font-size="9.2" text-anchor="middle" font-weight="normal" fill="#231f20" textLength="74" lengthAdjust="spacingAndGlyphs" >Time from TBI (d)</text>
<text x="264.00" y="189.90" font-size="8.7" text-anchor="middle" font-weight="normal" fill="#231f20" textLength="11.4" lengthAdjust="spacingAndGlyphs" >−21</text>
<text x="330.85" y="189.90" font-size="8.7" text-anchor="middle" font-weight="normal" fill="#231f20" >0</text>
<text x="349.70" y="189.90" font-size="8.7" text-anchor="middle" font-weight="normal" fill="#231f20" >7</text>
<line x1="264.70" y1="195.90" x2="350.30" y2="195.90" stroke="#231f20" stroke-width="1.5"/>
<line x1="264.70" y1="193.00" x2="264.70" y2="199.00" stroke="#231f20" stroke-width="1.1"/>
<line x1="330.60" y1="193.00" x2="330.60" y2="199.00" stroke="#231f20" stroke-width="1.1"/>
<line x1="350.30" y1="193.00" x2="350.30" y2="199.00" stroke="#231f20" stroke-width="1.1"/>
<line x1="265.80" y1="203.50" x2="350.30" y2="203.50" stroke="#231f20" stroke-width="1.1"/>
<text x="307.80" y="213.80" font-size="8.2" text-anchor="middle" font-weight="normal" fill="#231f20" textLength="69" lengthAdjust="spacingAndGlyphs" >Zn supplement (ZS)</text>
<line x1="398.60" y1="166.30" x2="398.60" y2="242.40" stroke="#231f20" stroke-width="1.2"/>
<line x1="398.00" y1="241.80" x2="433.60" y2="241.80" stroke="#231f20" stroke-width="1.2"/>
<line x1="395.40" y1="169.50" x2="398.60" y2="169.50" stroke="#231f20" stroke-width="1.1"/>
<text x="393.30" y="172.70" font-size="8.5" text-anchor="end" font-weight="normal" fill="#231f20" >400</text>
<line x1="395.40" y1="187.50" x2="398.60" y2="187.50" stroke="#231f20" stroke-width="1.1"/>
<text x="393.30" y="190.75" font-size="8.5" text-anchor="end" font-weight="normal" fill="#231f20" >300</text>
<line x1="395.40" y1="205.50" x2="398.60" y2="205.50" stroke="#231f20" stroke-width="1.1"/>
<text x="393.30" y="208.80" font-size="8.5" text-anchor="end" font-weight="normal" fill="#231f20" >200</text>
<line x1="395.40" y1="223.50" x2="398.60" y2="223.50" stroke="#231f20" stroke-width="1.1"/>
<text x="393.30" y="226.85" font-size="8.5" text-anchor="end" font-weight="normal" fill="#231f20" >100</text>
<line x1="395.40" y1="241.50" x2="398.60" y2="241.50" stroke="#231f20" stroke-width="1.1"/>
<text x="393.30" y="244.90" font-size="8.5" text-anchor="end" font-weight="normal" fill="#231f20" >0</text>
<line x1="407.60" y1="241.80" x2="407.60" y2="244.80" stroke="#231f20" stroke-width="1.2"/>
<line x1="425.00" y1="241.80" x2="425.00" y2="244.80" stroke="#231f20" stroke-width="1.2"/>
<text x="416.40" y="160.70" font-size="10.0" text-anchor="middle" font-weight="normal" fill="#231f20" textLength="24.6" lengthAdjust="spacingAndGlyphs" >Day 0</text>
<text transform="translate(372.2,206.5) rotate(-90)" x="0" y="0" font-size="9.8" text-anchor="middle" fill="#231f20" textLength="36.1" lengthAdjust="spacingAndGlyphs">Cells × 10<tspan dy="-3.8" font-size="6.5">6</tspan></text>
<rect x="402.40" y="209.40" width="10.50" height="32.40" fill="#a0d9a4" stroke="#8dd093" stroke-width="0.6"/>
<rect x="420.60" y="211.00" width="9.30" height="30.80" fill="#86a8cb" stroke="#7397bf" stroke-width="0.6"/>
<circle cx="407.60" cy="188.70" r="1.85" fill="#1caa3f"/>
<circle cx="403.80" cy="196.70" r="1.85" fill="#1caa3f"/>
<circle cx="407.10" cy="196.20" r="1.85" fill="#1caa3f"/>
<circle cx="410.90" cy="196.70" r="1.85" fill="#1caa3f"/>
<circle cx="406.60" cy="199.10" r="1.85" fill="#1caa3f"/>
<circle cx="403.80" cy="202.10" r="1.85" fill="#1caa3f"/>
<circle cx="410.90" cy="202.10" r="1.85" fill="#1caa3f"/>
<circle cx="407.10" cy="204.90" r="1.85" fill="#1caa3f"/>
<circle cx="403.80" cy="210.70" r="1.85" fill="#1caa3f"/>
<circle cx="412.50" cy="210.70" r="1.85" fill="#1caa3f"/>
<circle cx="407.60" cy="212.70" r="1.85" fill="#1caa3f"/>
<circle cx="403.80" cy="215.70" r="1.85" fill="#1caa3f"/>
<circle cx="410.40" cy="215.30" r="1.85" fill="#1caa3f"/>
<circle cx="407.10" cy="217.30" r="1.85" fill="#1caa3f"/>
<circle cx="409.90" cy="220.60" r="1.85" fill="#1caa3f"/>
<circle cx="404.60" cy="225.60" r="1.85" fill="#1caa3f"/>
<circle cx="411.00" cy="208.00" r="1.85" fill="#1caa3f"/>
<circle cx="427.80" cy="199.50" r="1.85" fill="#14468c"/>
<circle cx="419.80" cy="202.80" r="1.85" fill="#14468c"/>
<circle cx="422.50" cy="206.10" r="1.85" fill="#14468c"/>
<circle cx="426.10" cy="209.10" r="1.85" fill="#14468c"/>
<circle cx="421.10" cy="213.20" r="1.85" fill="#14468c"/>
<circle cx="427.40" cy="213.20" r="1.85" fill="#14468c"/>
<circle cx="423.60" cy="215.70" r="1.85" fill="#14468c"/>
<circle cx="427.40" cy="216.50" r="1.85" fill="#14468c"/>
<circle cx="424.00" cy="210.00" r="1.85" fill="#14468c"/>
<line x1="407.60" y1="205.40" x2="407.60" y2="210.40" stroke="#231f20" stroke-width="0.85"/>
<line x1="405.40" y1="205.40" x2="409.80" y2="205.40" stroke="#231f20" stroke-width="0.85"/>
<line x1="405.40" y1="210.40" x2="409.80" y2="210.40" stroke="#231f20" stroke-width="0.85"/>
<line x1="425.00" y1="208.20" x2="425.00" y2="212.40" stroke="#231f20" stroke-width="0.85"/>
<line x1="422.80" y1="208.20" x2="427.20" y2="208.20" stroke="#231f20" stroke-width="0.85"/>
<line x1="422.80" y1="212.40" x2="427.20" y2="212.40" stroke="#231f20" stroke-width="0.85"/>
<line x1="408.20" y1="183.90" x2="425.80" y2="183.90" stroke="#231f20" stroke-width="1.1"/>
<text x="417.00" y="181.40" font-size="8" text-anchor="middle" font-weight="normal" fill="#231f20" >ns</text>
<text x="392.50" y="254.30" font-size="8.3" text-anchor="end" font-weight="normal" fill="#231f20" >ZnSO<tspan dy="2" font-size="5.5">4</tspan></text>
<text x="407.60" y="254.30" font-size="8" text-anchor="middle" font-weight="normal" fill="#231f20" >−</text>
<text x="425.00" y="254.30" font-size="8" text-anchor="middle" font-weight="normal" fill="#231f20" >+</text>
<line x1="478.20" y1="166.60" x2="478.20" y2="242.10" stroke="#231f20" stroke-width="1.2"/>
<line x1="477.60" y1="241.50" x2="511.60" y2="241.50" stroke="#231f20" stroke-width="1.2"/>
<line x1="475.00" y1="169.50" x2="478.20" y2="169.50" stroke="#231f20" stroke-width="1.1"/>
<text x="472.90" y="172.60" font-size="8.5" text-anchor="end" font-weight="normal" fill="#231f20" >200</text>
<line x1="475.00" y1="187.50" x2="478.20" y2="187.50" stroke="#231f20" stroke-width="1.1"/>
<text x="472.90" y="190.60" font-size="8.5" text-anchor="end" font-weight="normal" fill="#231f20" >150</text>
<line x1="475.00" y1="205.50" x2="478.20" y2="205.50" stroke="#231f20" stroke-width="1.1"/>
<text x="472.90" y="208.60" font-size="8.5" text-anchor="end" font-weight="normal" fill="#231f20" >100</text>
<line x1="475.00" y1="223.50" x2="478.20" y2="223.50" stroke="#231f20" stroke-width="1.1"/>
<text x="472.90" y="226.60" font-size="8.5" text-anchor="end" font-weight="normal" fill="#231f20" >50</text>
<line x1="475.00" y1="241.50" x2="478.20" y2="241.50" stroke="#231f20" stroke-width="1.1"/>
<text x="472.90" y="244.60" font-size="8.5" text-anchor="end" font-weight="normal" fill="#231f20" >0</text>
<line x1="486.40" y1="241.50" x2="486.40" y2="244.50" stroke="#231f20" stroke-width="1.2"/>
<line x1="504.60" y1="241.50" x2="504.60" y2="244.50" stroke="#231f20" stroke-width="1.2"/>
<text x="495.00" y="160.60" font-size="10.0" text-anchor="middle" font-weight="normal" fill="#231f20" textLength="24.3" lengthAdjust="spacingAndGlyphs" >Day 7</text>
<text transform="translate(451.9,206.2) rotate(-90)" x="0" y="0" font-size="9.8" text-anchor="middle" fill="#231f20" textLength="35.6" lengthAdjust="spacingAndGlyphs">Cells × 10<tspan dy="-3.8" font-size="6.5">6</tspan></text>
<rect x="480.50" y="223.50" width="11.30" height="18.00" fill="#a0d9a4" stroke="#8dd093" stroke-width="0.6"/>
<rect x="499.60" y="203.60" width="10.20" height="37.90" fill="#86a8cb" stroke="#7397bf" stroke-width="0.6"/>
<circle cx="483.40" cy="207.50" r="1.85" fill="#1caa3f"/>
<circle cx="488.50" cy="211.40" r="1.85" fill="#1caa3f"/>
<circle cx="491.50" cy="210.50" r="1.85" fill="#1caa3f"/>
<circle cx="490.60" cy="213.20" r="1.85" fill="#1caa3f"/>
<circle cx="482.00" cy="216.80" r="1.85" fill="#1caa3f"/>
<circle cx="486.10" cy="217.20" r="1.85" fill="#1caa3f"/>
<circle cx="488.80" cy="218.30" r="1.85" fill="#1caa3f"/>
<circle cx="484.30" cy="219.00" r="1.85" fill="#1caa3f"/>
<circle cx="480.70" cy="224.10" r="1.85" fill="#1caa3f"/>
<circle cx="483.40" cy="228.00" r="1.85" fill="#1caa3f"/>
<circle cx="488.80" cy="232.20" r="1.85" fill="#1caa3f"/>
<circle cx="483.40" cy="233.10" r="1.85" fill="#1caa3f"/>
<circle cx="486.60" cy="238.10" r="1.85" fill="#1caa3f"/>
<circle cx="489.70" cy="237.60" r="1.85" fill="#1caa3f"/>
<circle cx="504.70" cy="177.60" r="1.85" fill="#14468c"/>
<circle cx="501.40" cy="182.30" r="1.85" fill="#14468c"/>
<circle cx="506.80" cy="185.90" r="1.85" fill="#14468c"/>
<circle cx="500.50" cy="191.30" r="1.85" fill="#14468c"/>
<circle cx="504.70" cy="194.30" r="1.85" fill="#14468c"/>
<circle cx="507.70" cy="193.80" r="1.85" fill="#14468c"/>
<circle cx="502.30" cy="196.70" r="1.85" fill="#14468c"/>
<circle cx="504.70" cy="210.00" r="1.85" fill="#14468c"/>
<circle cx="501.40" cy="218.30" r="1.85" fill="#14468c"/>
<circle cx="506.80" cy="218.60" r="1.85" fill="#14468c"/>
<circle cx="500.50" cy="221.90" r="1.85" fill="#14468c"/>
<circle cx="504.10" cy="225.00" r="1.85" fill="#14468c"/>
<circle cx="506.80" cy="223.20" r="1.85" fill="#14468c"/>
<line x1="486.10" y1="219.00" x2="486.10" y2="224.10" stroke="#231f20" stroke-width="0.85"/>
<line x1="483.90" y1="219.00" x2="488.30" y2="219.00" stroke="#231f20" stroke-width="0.85"/>
<line x1="483.90" y1="224.10" x2="488.30" y2="224.10" stroke="#231f20" stroke-width="0.85"/>
<line x1="504.70" y1="198.50" x2="504.70" y2="207.50" stroke="#231f20" stroke-width="0.85"/>
<line x1="502.50" y1="198.50" x2="506.90" y2="198.50" stroke="#231f20" stroke-width="0.85"/>
<line x1="502.50" y1="207.50" x2="506.90" y2="207.50" stroke="#231f20" stroke-width="0.85"/>
<line x1="486.10" y1="176.30" x2="504.70" y2="176.30" stroke="#231f20" stroke-width="1.1"/>
<path d="M493.52,171.00L493.52,173.80M492.31,171.70L494.74,173.10M492.31,173.10L494.74,171.70" stroke="#231f20" stroke-width="0.95" fill="none"/>
<path d="M497.27,171.00L497.27,173.80M496.06,171.70L498.49,173.10M496.06,173.10L498.49,171.70" stroke="#231f20" stroke-width="0.95" fill="none"/>
<text x="486.40" y="254.30" font-size="8" text-anchor="middle" font-weight="normal" fill="#231f20" >−</text>
<text x="504.60" y="254.30" font-size="8" text-anchor="middle" font-weight="normal" fill="#231f20" >+</text>
<text x="110.50" y="295.20" font-size="10.5" text-anchor="start" font-weight="bold" fill="#000" textLength="6.2" lengthAdjust="spacingAndGlyphs" style="stroke:#000;stroke-width:0.5">F</text>
<line x1="141.50" y1="300.80" x2="141.50" y2="376.90" stroke="#231f20" stroke-width="1.2"/>
<line x1="140.90" y1="376.30" x2="176.70" y2="376.30" stroke="#231f20" stroke-width="1.2"/>
<line x1="138.30" y1="305.50" x2="141.50" y2="305.50" stroke="#231f20" stroke-width="1.1"/>
<text x="135.90" y="308.32" font-size="8.0" text-anchor="end" font-weight="normal" fill="#231f20" >80</text>
<line x1="138.30" y1="323.50" x2="141.50" y2="323.50" stroke="#231f20" stroke-width="1.1"/>
<text x="135.90" y="326.05" font-size="8.0" text-anchor="end" font-weight="normal" fill="#231f20" >60</text>
<line x1="138.30" y1="340.50" x2="141.50" y2="340.50" stroke="#231f20" stroke-width="1.1"/>
<text x="135.90" y="343.77" font-size="8.0" text-anchor="end" font-weight="normal" fill="#231f20" >40</text>
<line x1="138.30" y1="358.50" x2="141.50" y2="358.50" stroke="#231f20" stroke-width="1.1"/>
<text x="135.90" y="361.50" font-size="8.0" text-anchor="end" font-weight="normal" fill="#231f20" >20</text>
<line x1="138.30" y1="376.50" x2="141.50" y2="376.50" stroke="#231f20" stroke-width="1.1"/>
<text x="135.90" y="379.22" font-size="8.0" text-anchor="end" font-weight="normal" fill="#231f20" >0</text>
<line x1="151.00" y1="376.30" x2="151.00" y2="379.30" stroke="#231f20" stroke-width="1.2"/>
<line x1="169.30" y1="376.30" x2="169.30" y2="379.30" stroke="#231f20" stroke-width="1.2"/>
<text x="159.85" y="294.70" font-size="9.0" text-anchor="middle" font-weight="normal" fill="#231f20" textLength="22.4" lengthAdjust="spacingAndGlyphs" >cTEC</text>
<text transform="translate(120.5,340.4) rotate(-90)" x="0" y="0" font-size="9.8" text-anchor="middle" fill="#231f20" textLength="36.1" lengthAdjust="spacingAndGlyphs">Cells × 10<tspan dy="-3.8" font-size="6.5">3</tspan></text>
<rect x="145.40" y="364.80" width="11.00" height="11.50" fill="#a0d9a4" stroke="#8dd093" stroke-width="0.6"/>
<rect x="164.40" y="350.80" width="9.40" height="25.50" fill="#86a8cb" stroke="#7397bf" stroke-width="0.6"/>
<circle cx="147.60" cy="351.70" r="1.85" fill="#1caa3f"/>
<circle cx="154.20" cy="353.30" r="1.85" fill="#1caa3f"/>
<circle cx="151.20" cy="356.00" r="1.85" fill="#1caa3f"/>
<circle cx="146.00" cy="363.70" r="1.85" fill="#1caa3f"/>
<circle cx="154.20" cy="362.60" r="1.85" fill="#1caa3f"/>
<circle cx="148.40" cy="366.20" r="1.85" fill="#1caa3f"/>
<circle cx="151.20" cy="367.00" r="1.85" fill="#1caa3f"/>
<circle cx="153.40" cy="367.90" r="1.85" fill="#1caa3f"/>
<circle cx="150.10" cy="369.50" r="1.85" fill="#1caa3f"/>
<circle cx="151.20" cy="372.00" r="1.85" fill="#1caa3f"/>
<circle cx="165.50" cy="323.60" r="1.85" fill="#14468c"/>
<circle cx="168.80" cy="326.50" r="1.85" fill="#14468c"/>
<circle cx="172.40" cy="323.20" r="1.85" fill="#14468c"/>
<circle cx="168.80" cy="338.40" r="1.85" fill="#14468c"/>
<circle cx="166.10" cy="344.70" r="1.85" fill="#14468c"/>
<circle cx="170.80" cy="347.20" r="1.85" fill="#14468c"/>
<circle cx="167.40" cy="351.70" r="1.85" fill="#14468c"/>
<circle cx="165.50" cy="357.10" r="1.85" fill="#14468c"/>
<circle cx="170.80" cy="357.90" r="1.85" fill="#14468c"/>
<circle cx="174.10" cy="360.90" r="1.85" fill="#14468c"/>
<circle cx="172.10" cy="362.90" r="1.85" fill="#14468c"/>
<circle cx="165.80" cy="363.70" r="1.85" fill="#14468c"/>
<circle cx="169.90" cy="364.50" r="1.85" fill="#14468c"/>
<circle cx="167.40" cy="367.50" r="1.85" fill="#14468c"/>
<line x1="151.20" y1="363.20" x2="151.20" y2="366.00" stroke="#231f20" stroke-width="0.85"/>
<line x1="149.00" y1="363.20" x2="153.40" y2="363.20" stroke="#231f20" stroke-width="0.85"/>
<line x1="149.00" y1="366.00" x2="153.40" y2="366.00" stroke="#231f20" stroke-width="0.85"/>
<line x1="169.40" y1="345.00" x2="169.40" y2="353.30" stroke="#231f20" stroke-width="0.85"/>
<line x1="167.20" y1="345.00" x2="171.60" y2="345.00" stroke="#231f20" stroke-width="0.85"/>
<line x1="167.20" y1="353.30" x2="171.60" y2="353.30" stroke="#231f20" stroke-width="0.85"/>
<line x1="151.20" y1="317.40" x2="168.80" y2="317.40" stroke="#231f20" stroke-width="1.1"/>
<path d="M158.12,312.10L158.12,314.90M156.91,312.80L159.34,314.20M156.91,314.20L159.34,312.80" stroke="#231f20" stroke-width="0.95" fill="none"/>
<path d="M161.88,312.10L161.88,314.90M160.66,312.80L163.09,314.20M160.66,314.20L163.09,312.80" stroke="#231f20" stroke-width="0.95" fill="none"/>
<text x="141.00" y="389.20" font-size="8.3" text-anchor="end" font-weight="normal" fill="#231f20" >ZnSO<tspan dy="2" font-size="5.5">4</tspan></text>
<text x="151.00" y="388.60" font-size="8" text-anchor="middle" font-weight="normal" fill="#231f20" >−</text>
<text x="169.30" y="388.60" font-size="8" text-anchor="middle" font-weight="normal" fill="#231f20" >+</text>
<line x1="203.30" y1="301.00" x2="203.30" y2="376.90" stroke="#231f20" stroke-width="1.2"/>
<line x1="202.70" y1="376.30" x2="238.90" y2="376.30" stroke="#231f20" stroke-width="1.2"/>
<line x1="200.10" y1="305.50" x2="203.30" y2="305.50" stroke="#231f20" stroke-width="1.1"/>
<text x="197.70" y="308.32" font-size="8.0" text-anchor="end" font-weight="normal" fill="#231f20" >80</text>
<line x1="200.10" y1="323.50" x2="203.30" y2="323.50" stroke="#231f20" stroke-width="1.1"/>
<text x="197.70" y="326.05" font-size="8.0" text-anchor="end" font-weight="normal" fill="#231f20" >60</text>
<line x1="200.10" y1="340.50" x2="203.30" y2="340.50" stroke="#231f20" stroke-width="1.1"/>
<text x="197.70" y="343.77" font-size="8.0" text-anchor="end" font-weight="normal" fill="#231f20" >40</text>
<line x1="200.10" y1="358.50" x2="203.30" y2="358.50" stroke="#231f20" stroke-width="1.1"/>
<text x="197.70" y="361.50" font-size="8.0" text-anchor="end" font-weight="normal" fill="#231f20" >20</text>
<line x1="200.10" y1="376.50" x2="203.30" y2="376.50" stroke="#231f20" stroke-width="1.1"/>
<text x="197.70" y="379.22" font-size="8.0" text-anchor="end" font-weight="normal" fill="#231f20" >0</text>
<line x1="212.60" y1="376.30" x2="212.60" y2="379.30" stroke="#231f20" stroke-width="1.2"/>
<line x1="230.50" y1="376.30" x2="230.50" y2="379.30" stroke="#231f20" stroke-width="1.2"/>
<text x="221.30" y="295.00" font-size="9.0" text-anchor="middle" font-weight="normal" fill="#231f20" textLength="25.6" lengthAdjust="spacingAndGlyphs" >mTEC</text>
<rect x="207.40" y="364.80" width="10.50" height="11.50" fill="#a0d9a4" stroke="#8dd093" stroke-width="0.6"/>
<rect x="225.60" y="349.60" width="9.80" height="26.70" fill="#86a8cb" stroke="#7397bf" stroke-width="0.6"/>
<circle cx="212.60" cy="347.20" r="1.85" fill="#1caa3f"/>
<circle cx="212.60" cy="358.30" r="1.85" fill="#1caa3f"/>
<circle cx="209.60" cy="360.40" r="1.85" fill="#1caa3f"/>
<circle cx="215.90" cy="360.40" r="1.85" fill="#1caa3f"/>
<circle cx="211.30" cy="362.90" r="1.85" fill="#1caa3f"/>
<circle cx="212.90" cy="365.40" r="1.85" fill="#1caa3f"/>
<circle cx="209.60" cy="367.00" r="1.85" fill="#1caa3f"/>
<circle cx="215.40" cy="366.20" r="1.85" fill="#1caa3f"/>
<circle cx="212.10" cy="368.70" r="1.85" fill="#1caa3f"/>
<circle cx="214.20" cy="371.20" r="1.85" fill="#1caa3f"/>
<circle cx="230.30" cy="321.90" r="1.85" fill="#14468c"/>
<circle cx="227.80" cy="332.30" r="1.85" fill="#14468c"/>
<circle cx="233.10" cy="331.20" r="1.85" fill="#14468c"/>
<circle cx="227.00" cy="339.40" r="1.85" fill="#14468c"/>
<circle cx="233.60" cy="338.10" r="1.85" fill="#14468c"/>
<circle cx="230.30" cy="342.70" r="1.85" fill="#14468c"/>
<circle cx="230.30" cy="349.70" r="1.85" fill="#14468c"/>
<circle cx="227.80" cy="356.30" r="1.85" fill="#14468c"/>
<circle cx="231.90" cy="357.90" r="1.85" fill="#14468c"/>
<circle cx="233.60" cy="361.20" r="1.85" fill="#14468c"/>
<circle cx="227.50" cy="366.50" r="1.85" fill="#14468c"/>
<circle cx="229.50" cy="358.00" r="1.85" fill="#14468c"/>
<line x1="212.60" y1="362.60" x2="212.60" y2="365.50" stroke="#231f20" stroke-width="0.85"/>
<line x1="210.40" y1="362.60" x2="214.80" y2="362.60" stroke="#231f20" stroke-width="0.85"/>
<line x1="210.40" y1="365.50" x2="214.80" y2="365.50" stroke="#231f20" stroke-width="0.85"/>
<line x1="230.80" y1="345.00" x2="230.80" y2="352.10" stroke="#231f20" stroke-width="0.85"/>
<line x1="228.60" y1="345.00" x2="233.00" y2="345.00" stroke="#231f20" stroke-width="0.85"/>
<line x1="228.60" y1="352.10" x2="233.00" y2="352.10" stroke="#231f20" stroke-width="0.85"/>
<line x1="213.20" y1="317.40" x2="230.80" y2="317.40" stroke="#231f20" stroke-width="1.1"/>
<path d="M220.12,312.10L220.12,314.90M218.91,312.80L221.34,314.20M218.91,314.20L221.34,312.80" stroke="#231f20" stroke-width="0.95" fill="none"/>
<path d="M223.88,312.10L223.88,314.90M222.66,312.80L225.09,314.20M222.66,314.20L225.09,312.80" stroke="#231f20" stroke-width="0.95" fill="none"/>
<text x="212.60" y="388.60" font-size="8" text-anchor="middle" font-weight="normal" fill="#231f20" >−</text>
<text x="230.50" y="388.60" font-size="8" text-anchor="middle" font-weight="normal" fill="#231f20" >+</text>
<text x="280.20" y="296.10" font-size="10.5" text-anchor="start" font-weight="bold" fill="#000" textLength="9.4" lengthAdjust="spacingAndGlyphs" style="stroke:#000;stroke-width:0.5">G</text>
<line x1="304.90" y1="302.00" x2="304.90" y2="376.90" stroke="#231f20" stroke-width="1.2"/>
<line x1="304.30" y1="376.30" x2="367.80" y2="376.30" stroke="#231f20" stroke-width="1.2"/>
<line x1="301.70" y1="305.50" x2="304.90" y2="305.50" stroke="#231f20" stroke-width="1.1"/>
<text x="298.90" y="308.37" font-size="7.6" text-anchor="end" font-weight="normal" fill="#231f20" >4</text>
<line x1="301.70" y1="323.50" x2="304.90" y2="323.50" stroke="#231f20" stroke-width="1.1"/>
<text x="298.90" y="326.05" font-size="7.6" text-anchor="end" font-weight="normal" fill="#231f20" >3</text>
<line x1="301.70" y1="340.50" x2="304.90" y2="340.50" stroke="#231f20" stroke-width="1.1"/>
<text x="298.90" y="343.72" font-size="7.6" text-anchor="end" font-weight="normal" fill="#231f20" >2</text>
<line x1="301.70" y1="358.50" x2="304.90" y2="358.50" stroke="#231f20" stroke-width="1.1"/>
<text x="298.90" y="361.40" font-size="7.6" text-anchor="end" font-weight="normal" fill="#231f20" >1</text>
<line x1="301.70" y1="376.50" x2="304.90" y2="376.50" stroke="#231f20" stroke-width="1.1"/>
<text x="298.90" y="379.07" font-size="7.6" text-anchor="end" font-weight="normal" fill="#231f20" >0</text>
<line x1="314.80" y1="376.30" x2="314.80" y2="379.30" stroke="#231f20" stroke-width="1.2"/>
<line x1="327.60" y1="376.30" x2="327.60" y2="379.30" stroke="#231f20" stroke-width="1.2"/>
<line x1="346.60" y1="376.30" x2="346.60" y2="379.30" stroke="#231f20" stroke-width="1.2"/>
<line x1="359.10" y1="376.30" x2="359.10" y2="379.30" stroke="#231f20" stroke-width="1.2"/>
<rect x="310.00" y="374.30" width="9.70" height="2.00" fill="#a0d9a4" stroke="#8dd093" stroke-width="0.6"/>
<rect x="322.80" y="365.50" width="9.70" height="10.80" fill="#86a8cb" stroke="#7397bf" stroke-width="0.6"/>
<rect x="341.80" y="366.10" width="9.60" height="10.20" fill="#a0d9a4" stroke="#8dd093" stroke-width="0.6"/>
<rect x="354.50" y="340.80" width="9.10" height="35.50" fill="#86a8cb" stroke="#7397bf" stroke-width="0.6"/>
<circle cx="310.80" cy="374.30" r="1.85" fill="#1caa3f"/>
<circle cx="313.70" cy="373.50" r="1.85" fill="#1caa3f"/>
<circle cx="316.10" cy="374.90" r="1.85" fill="#1caa3f"/>
<circle cx="318.60" cy="373.00" r="1.85" fill="#1caa3f"/>
<circle cx="312.50" cy="376.00" r="1.85" fill="#1caa3f"/>
<circle cx="325.40" cy="353.50" r="1.85" fill="#14468c"/>
<circle cx="330.30" cy="352.50" r="1.85" fill="#14468c"/>
<circle cx="327.70" cy="354.90" r="1.85" fill="#14468c"/>
<circle cx="326.40" cy="358.00" r="1.85" fill="#14468c"/>
<circle cx="324.40" cy="367.10" r="1.85" fill="#14468c"/>
<circle cx="328.90" cy="367.70" r="1.85" fill="#14468c"/>
<circle cx="325.40" cy="370.00" r="1.85" fill="#14468c"/>
<circle cx="329.30" cy="372.40" r="1.85" fill="#14468c"/>
<circle cx="327.00" cy="373.00" r="1.85" fill="#14468c"/>
<circle cx="342.90" cy="362.60" r="1.85" fill="#1caa3f"/>
<circle cx="349.10" cy="363.20" r="1.85" fill="#1caa3f"/>
<circle cx="345.80" cy="365.20" r="1.85" fill="#1caa3f"/>
<circle cx="344.00" cy="366.50" r="1.85" fill="#1caa3f"/>
<circle cx="347.50" cy="366.50" r="1.85" fill="#1caa3f"/>
<circle cx="359.40" cy="322.40" r="1.85" fill="#14468c"/>
<circle cx="359.10" cy="332.70" r="1.85" fill="#14468c"/>
<circle cx="355.60" cy="346.70" r="1.85" fill="#14468c"/>
<circle cx="362.40" cy="346.70" r="1.85" fill="#14468c"/>
<circle cx="356.50" cy="349.60" r="1.85" fill="#14468c"/>
<circle cx="360.80" cy="349.60" r="1.85" fill="#14468c"/>
<line x1="327.70" y1="361.90" x2="327.70" y2="369.10" stroke="#231f20" stroke-width="0.85"/>
<line x1="325.50" y1="361.90" x2="329.90" y2="361.90" stroke="#231f20" stroke-width="0.85"/>
<line x1="325.50" y1="369.10" x2="329.90" y2="369.10" stroke="#231f20" stroke-width="0.85"/>
<line x1="359.10" y1="334.60" x2="359.10" y2="346.30" stroke="#231f20" stroke-width="0.85"/>
<line x1="356.90" y1="334.60" x2="361.30" y2="334.60" stroke="#231f20" stroke-width="0.85"/>
<line x1="356.90" y1="346.30" x2="361.30" y2="346.30" stroke="#231f20" stroke-width="0.85"/>
<line x1="314.80" y1="374.30" x2="314.80" y2="375.50" stroke="#231f20" stroke-width="0.85"/>
<line x1="313.30" y1="374.30" x2="316.30" y2="374.30" stroke="#231f20" stroke-width="0.85"/>
<line x1="313.30" y1="375.50" x2="316.30" y2="375.50" stroke="#231f20" stroke-width="0.85"/>
<line x1="315.10" y1="347.30" x2="327.70" y2="347.30" stroke="#231f20" stroke-width="1.1"/>
<path d="M317.65,341.80L317.65,344.60M316.44,342.50L318.86,343.90M316.44,343.90L318.86,342.50" stroke="#231f20" stroke-width="0.95" fill="none"/>
<path d="M321.40,341.80L321.40,344.60M320.19,342.50L322.61,343.90M320.19,343.90L322.61,342.50" stroke="#231f20" stroke-width="0.95" fill="none"/>
<path d="M325.15,341.80L325.15,344.60M323.94,342.50L326.36,343.90M323.94,343.90L326.36,342.50" stroke="#231f20" stroke-width="0.95" fill="none"/>
<line x1="346.80" y1="317.90" x2="358.90" y2="317.90" stroke="#231f20" stroke-width="1.1"/>
<path d="M350.98,312.60L350.98,315.40M349.76,313.30L352.19,314.70M349.76,314.70L352.19,313.30" stroke="#231f20" stroke-width="0.95" fill="none"/>
<path d="M354.73,312.60L354.73,315.40M353.51,313.30L355.94,314.70M353.51,314.70L355.94,313.30" stroke="#231f20" stroke-width="0.95" fill="none"/>
<text x="321.00" y="389.00" font-size="8.5" text-anchor="middle" font-weight="normal" fill="#231f20" >7</text>
<text x="352.70" y="389.00" font-size="8.5" text-anchor="middle" font-weight="normal" fill="#231f20" >14</text>
<text x="337.00" y="401.50" font-size="10.4" text-anchor="middle" font-weight="normal" fill="#231f20" textLength="44" lengthAdjust="spacingAndGlyphs" >Days after TBI</text>
<text transform="translate(288.4,338.6) rotate(-90)" x="0" y="0" font-size="9.6" text-anchor="middle" fill="#231f20" textLength="55.5" lengthAdjust="spacingAndGlyphs">Ki-67<tspan dy="-3.8" font-size="6.5">+</tspan><tspan dy="3.8"> TECs (10</tspan><tspan dy="-3.8" font-size="6.5">5</tspan><tspan dy="3.8">)</tspan></text>
<rect x="375.40" y="305.80" width="5.40" height="5.40" fill="#1caa3f"/>
<text x="383.80" y="311.10" font-size="7.6" text-anchor="start" font-weight="normal" fill="#231f20" textLength="25.4" lengthAdjust="spacingAndGlyphs" >Control</text>
<rect x="375.40" y="317.60" width="5.40" height="5.40" fill="#14468c"/>
<text x="383.80" y="322.80" font-size="7.6" text-anchor="start" font-weight="normal" fill="#231f20" >ZnSO<tspan dy="2" font-size="5.5">4</tspan></text>
<rect x="0.5" y="0.5" width="519" height="410" fill="none" stroke="#000" stroke-width="1"/>
</svg>
</body></html>
